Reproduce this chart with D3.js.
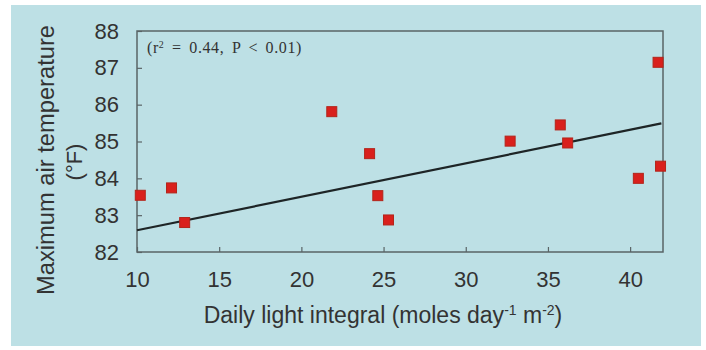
<!DOCTYPE html>
<html>
<head>
<meta charset="utf-8">
<script src="https://cdn.jsdelivr.net/npm/d3@7/dist/d3.min.js"></script>
<style>
  html, body { margin: 0; padding: 0; background: #fff; }
  svg { display: block; }
</style>
</head>
<body>
<div id="chart"></div>
<script>
// daily light integral (moles day-1 m-2) vs max air temperature (°F)
const lightValues = [10.2, 12.1, 12.9, 21.85, 24.15, 24.65, 25.3, 32.7, 35.75, 36.2, 41.7, 41.85, 40.5];
const tempValues  = [83.54, 83.74, 82.8, 85.81, 84.67, 83.53, 82.87, 85.01, 85.45, 84.96, 87.15, 84.33, 84.0];

// fitted line end points
const trendX = [10, 41.9];
const trendY = [82.59, 85.49];

const xTicks = [10, 15, 20, 25, 30, 35, 40];
const yTicks = [82, 83, 84, 85, 86, 87, 88];

const width = 706, height = 350;
const margin = { top: 31, right: 43, bottom: 98, left: 137 };

const svg = d3.select('#chart').append('svg')
  .attr('width', width)
  .attr('height', height);

// light blue panel
svg.append('rect')
  .attr('x', 11).attr('y', 5)
  .attr('width', 690).attr('height', 341)
  .attr('fill', '#bde0e5');

const x = d3.scaleLinear().domain([10, 42]).range([margin.left, width - margin.right]);
const y = d3.scaleLinear().domain([82, 88]).range([height - margin.bottom, margin.top]);

const axisColor = '#5a6466';
const fontFam = 'Arial, "Liberation Sans", Helvetica, sans-serif';

// frame
svg.append('rect')
  .attr('x', x(10)).attr('y', y(88))
  .attr('width', x(42) - x(10)).attr('height', y(82) - y(88))
  .attr('fill', 'none')
  .attr('stroke', axisColor)
  .attr('stroke-width', 1.5);

const xAxis = svg.append('g')
  .attr('transform', `translate(0,${y(82)})`)
  .call(d3.axisBottom(x).tickValues(xTicks).tickFormat(d3.format('d'))
    .tickSizeInner(-5).tickSizeOuter(0).tickPadding(19));
const yAxis = svg.append('g')
  .attr('transform', `translate(${x(10)},0)`)
  .call(d3.axisLeft(y).tickValues(yTicks).tickFormat(d3.format('d'))
    .tickSizeInner(-5).tickSizeOuter(0).tickPadding(18));

[xAxis, yAxis].forEach(g => {
  g.select('.domain').remove();
  g.selectAll('.tick line').attr('stroke', axisColor).attr('stroke-width', 1.2);
  g.selectAll('.tick text')
    .attr('fill', '#333')
    .style('font-family', fontFam)
    .style('font-size', '22px');
});

// regression line
svg.append('line')
  .attr('x1', x(trendX[0])).attr('y1', y(trendY[0]))
  .attr('x2', x(trendX[1])).attr('y2', y(trendY[1]))
  .attr('stroke', '#1e2526')
  .attr('stroke-width', 2.2);

// points
const sz = 10;
svg.append('g')
  .selectAll('rect')
  .data(lightValues.map((v, i) => [v, tempValues[i]]))
  .join('rect')
  .attr('x', d => x(d[0]) - sz / 2)
  .attr('y', d => y(d[1]) - sz / 2)
  .attr('width', sz)
  .attr('height', sz)
  .attr('fill', '#d9201c')
  .attr('stroke', '#b3251a')
  .attr('stroke-width', 1);

// stats note
const note = svg.append('text')
  .attr('x', 147).attr('y', 53)
  .attr('fill', '#333')
  .style('font-family', '"Liberation Serif", "Times New Roman", serif')
  .style('font-size', '16px')
  .style('letter-spacing', '0.6px')
  .style('word-spacing', '3px');
note.append('tspan').text('(r');
note.append('tspan').attr('dy', -5).style('font-size', '10px').text('2');
note.append('tspan').attr('dy', 5).text(' =  0.44, P < 0.01)');

// axis titles
const xt = svg.append('text')
  .attr('x', 383).attr('y', 323)
  .attr('text-anchor', 'middle')
  .attr('fill', '#333')
  .style('font-family', fontFam)
  .style('font-size', '23px');
xt.append('tspan').text('Daily light integral (moles day');
xt.append('tspan').attr('dy', -8).style('font-size', '14px').text('-1');
xt.append('tspan').attr('dy', 8).text(' m');
xt.append('tspan').attr('dy', -8).style('font-size', '14px').text('-2');
xt.append('tspan').attr('dy', 8).text(')');

svg.append('text')
  .attr('transform', 'translate(54,160) rotate(-90)')
  .attr('text-anchor', 'middle')
  .attr('fill', '#333')
  .style('font-family', fontFam)
  .style('font-size', '23px')
  .attr('textLength', 270)
  .attr('lengthAdjust', 'spacingAndGlyphs')
  .text('Maximum air temperature');

svg.append('text')
  .attr('transform', 'translate(82,162) rotate(-90)')
  .attr('text-anchor', 'middle')
  .attr('fill', '#333')
  .style('font-family', fontFam)
  .style('font-size', '22px')
  .text('(°F)');
</script>
</body>
</html>
